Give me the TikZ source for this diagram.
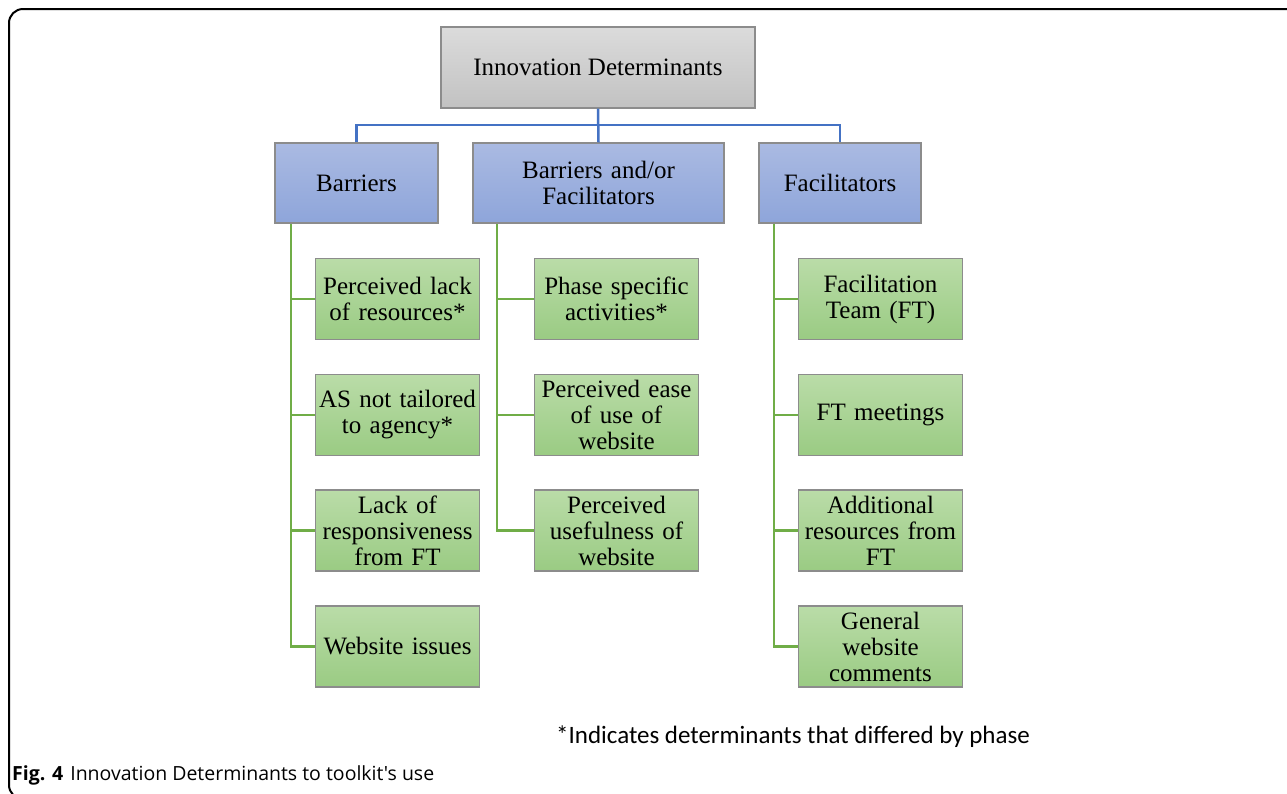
\documentclass[tikz,border=0pt]{standalone}
\usepackage{fontspec}
\setmainfont{Liberation Serif}
\newfontfamily\notefont{Carlito}
\newfontfamily\capfont{Open Sans}
\definecolor{bline}{HTML}{4472C4}
\definecolor{gline}{HTML}{70AD47}
\definecolor{bordc}{HTML}{8C8C8C}
\tikzset{
  x=1pt,y=-1pt,
  box/.style={draw=bordc,line width=1.3pt,align=center,inner sep=2pt,font=\fontsize{25}{26}\selectfont},
  topbox/.style={box,top color=gray!28,bottom color=gray!48,minimum width=314pt,minimum height=81pt},
  bluebox/.style={box,top color={rgb,255:red,170;green,186;blue,226},bottom color={rgb,255:red,142;green,165;blue,218},minimum height=80pt},
  greenbox/.style={box,top color={rgb,255:red,186;green,220;blue,168},bottom color={rgb,255:red,154;green,203;blue,131},minimum width=163pt,minimum height=81pt,text width=160pt},
  bconn/.style={draw=bline,line width=2.5pt},
  gconn/.style={draw=gline,line width=2.5pt}
}
\begin{document}
\begin{tikzpicture}
\useasboundingbox (0,0) rectangle (1287,793);
\clip (0,0) rectangle (1287,793);
\fill[white] (0,0) rectangle (1287,793);
\draw[line width=2pt,rounded corners=14pt] (1300,9) -- (9,9) -- (9,799) -- (1300,799);

\node[topbox] (top) at (598,67.5) {Innovation Determinants};
\node[bluebox,minimum width=163pt] (bar) at (356.5,183) {Barriers};
\node[bluebox,minimum width=251pt,text width=240pt] (bf) at (598.5,183) {Barriers and/or\\Facilitators};
\node[bluebox,minimum width=162pt] (fac) at (840,183) {Facilitators};

\coordinate (bus) at (598,125);
\draw[bconn] (top.south) -- (bf.north);
\draw[bconn] (bar.north) |- (bus) -| (fac.north);

\node[greenbox] (b1) at (397.5,299) {Perceived lack\\of resources*};
\node[greenbox] (b2) at (397.5,415) {AS not tailored\\to agency*};
\node[greenbox] (b3) at (397.5,530.5) {Lack of\\responsiveness\\from FT};
\node[greenbox] (b4) at (397.5,646.5) {Website issues};

\node[greenbox] (m1) at (616.5,299) {Phase specific\\activities*};
\node[greenbox] (m2) at (616.5,415) {Perceived ease\\of use of\\website};
\node[greenbox] (m3) at (616.5,530.5) {Perceived\\usefulness of\\website};

\node[greenbox] (f1) at (880.5,299) {Facilitation\\Team (FT)};
\node[greenbox] (f2) at (880.5,415) {FT meetings};
\node[greenbox] (f3) at (880.5,530.5) {Additional\\resources from\\FT};
\node[greenbox] (f4) at (880.5,646.5) {General\\website\\comments};

\coordinate (t1) at (291,224);
\coordinate (t2) at (497,224);
\coordinate (t3) at (774,224);
\foreach \n in {b1,b2,b3,b4} \draw[gconn] (t1) |- (\n.west);
\foreach \n in {m1,m2,m3} \draw[gconn] (t2) |- (\n.west);
\foreach \n in {f1,f2,f3,f4} \draw[gconn] (t3) |- (\n.west);

\node[font=\notefont\fontsize{25}{28}\selectfont] (note) at (793,737) {*Indicates determinants that differed by phase};
\node[anchor=west,font=\capfont\fontsize{19.5}{22}\selectfont,inner sep=0pt] (cap) at (12,775) {\textbf{Fig. 4}\hspace{7pt}Innovation Determinants to toolkit's use};
\end{tikzpicture}
\end{document}
